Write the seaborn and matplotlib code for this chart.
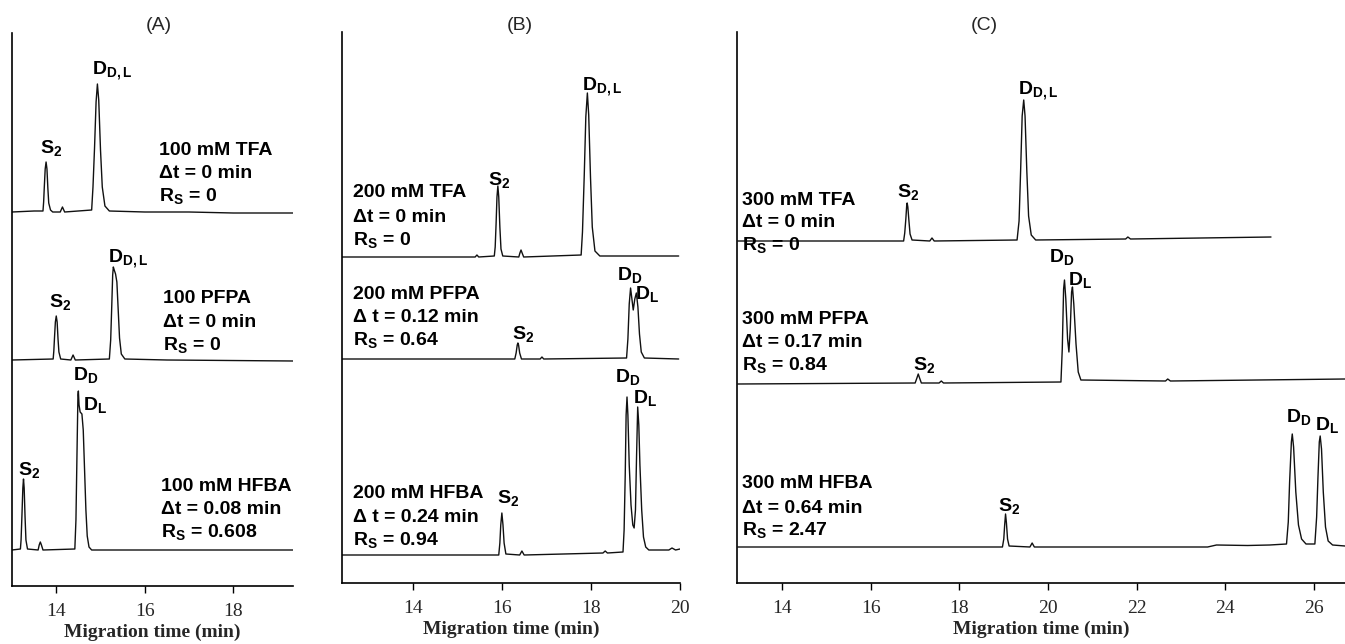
import numpy as np
import pandas as pd
import matplotlib
matplotlib.use("Agg")
import matplotlib.pyplot as plt
import seaborn as sns

# STYLE
sns.set_style("ticks")
plt.rcParams["font.family"] = ["Liberation Sans", "DejaVu Sans"]
plt.rcParams["mathtext.fontset"] = "custom"
plt.rcParams["mathtext.rm"] = "Liberation Sans"
plt.rcParams["mathtext.bf"] = "Liberation Sans:bold"
plt.rcParams["mathtext.it"] = "Liberation Sans:italic"

# DATA (migration time in min, detector signal above each trace's baseline)
# panel A - 100 mM
a_tfa_t = [13.0, 13.5, 13.70, 13.715, 13.73, 13.75, 13.77, 13.79, 13.81, 13.83, 13.87, 13.92,
           14.09, 14.14, 14.19,
           14.80, 14.83, 14.865, 14.90, 14.93, 14.96, 15.00, 15.04, 15.10, 15.20,
           16.0, 17.0, 18.0, 19.35]
a_tfa_s = [0, 1, 1, 10, 25, 43, 50, 43, 24, 9, 2, 0,
           0, 5, 0,
           2, 25, 64, 110, 128, 112, 62, 25, 6, 1,
           0, 0, -1, -1]
a_pfpa_t = [13.0, 13.93, 13.945, 13.96, 13.98, 14.00, 14.02, 14.04, 14.06, 14.10,
            14.33, 14.38, 14.43,
            15.20, 15.23, 15.255, 15.275, 15.29, 15.31, 15.34, 15.37, 15.40, 15.43, 15.47, 15.55,
            16.5, 19.35]
a_pfpa_s = [0, 1, 9, 22, 38, 44, 38, 21, 8, 1,
            0, 5, 0,
            1, 20, 55, 85, 93, 90, 86, 78, 50, 22, 6, 1,
            0, -1]
a_hfba_t = [13.0, 13.19, 13.205, 13.225, 13.245, 13.26, 13.275, 13.295, 13.315, 13.35,
            13.59, 13.615, 13.64, 13.665, 13.70,
            14.42, 14.445, 14.47, 14.49, 14.50, 14.515, 14.54, 14.58, 14.61, 14.64, 14.67, 14.70,
            14.74, 14.80, 15.5, 19.35]
a_hfba_s = [0, 1, 10, 35, 62, 71, 62, 33, 10, 1,
            0, 5, 8, 5, 0,
            1, 30, 100, 155, 159, 145, 138, 136, 120, 80, 40, 14,
            3, 0, 0, 0]

# panel B - 200 mM
b_tfa_t = [12.41, 15.0, 15.40, 15.44, 15.48,
           15.83, 15.85, 15.87, 15.89, 15.91, 15.93, 15.955, 15.98, 16.02,
           16.38, 16.405, 16.43, 16.455, 16.49,
           17.78, 17.81, 17.85, 17.885, 17.92, 17.95, 17.99, 18.03, 18.09, 18.2, 19.97]
b_tfa_s = [0, 0, 0, 2, 0,
           1, 10, 33, 60, 71, 60, 30, 8, 1,
           0, 4, 7, 4, 0,
           2, 25, 82, 140, 164, 142, 80, 30, 6, 1, 1]
b_pfpa_t = [12.41, 16.29, 16.32, 16.345, 16.36, 16.375, 16.40, 16.44,
            16.86, 16.90, 16.94,
            18.80, 18.83, 18.86, 18.89, 18.92, 18.95, 18.985, 19.02, 19.055, 19.09, 19.13, 19.20,
            19.97]
b_pfpa_s = [0, 0, 6, 14, 16, 14, 6, 0,
            0, 2, 0,
            1, 20, 55, 71, 60, 49, 60, 66, 52, 25, 7, 1,
            0]
b_hfba_t = [12.41, 15.93, 15.955, 15.975, 16.00, 16.025, 16.05, 16.09,
            16.40, 16.45, 16.50, 18.27, 18.32, 18.37,
            18.72, 18.745, 18.77, 18.79, 18.81, 18.83, 18.86, 18.90, 18.94, 18.97, 19.00, 19.025,
            19.05, 19.075, 19.10, 19.14, 19.18, 19.23, 19.30, 19.75, 19.82, 19.9, 20.0]
b_hfba_s = [0, 0, 12, 30, 42, 30, 12, 1,
            0, 4, 0, 2, 4, 2,
            3, 25, 80, 140, 158, 140, 90, 50, 30, 27, 45, 100,
            148, 130, 90, 45, 18, 8, 5, 5, 7, 5, 6]

# panel C - 300 mM
c_tfa_t = [13.0, 16.74, 16.765, 16.79, 16.81, 16.82, 16.835, 16.86, 16.885, 16.93,
           17.33, 17.38, 17.43,
           19.30, 19.345, 19.38, 19.415, 19.45, 19.48, 19.52, 19.56, 19.62, 19.72,
           21.75, 21.80, 21.86, 25.03]
c_tfa_s = [0, 0, 8, 22, 36, 38, 34, 20, 7, 1,
           0, 3, 0,
           1, 20, 70, 125, 141, 125, 70, 25, 6, 1,
           2, 4, 2, 4]
c_pfpa_t = [13.0, 17.0, 17.04, 17.07, 17.10, 17.14,
            17.54, 17.59, 17.64,
            20.29, 20.32, 20.35, 20.37, 20.40, 20.44, 20.47, 20.50, 20.53, 20.55, 20.58, 20.63,
            20.68, 20.74, 22.65, 22.70, 22.76, 26.7]
c_pfpa_s = [0, 1, 6, 10, 6, 1,
            1, 3, 1,
            2, 35, 95, 104, 85, 45, 32, 55, 92, 97, 80, 40,
            12, 4, 3, 5, 3, 5]
c_hfba_t = [13.0, 18.97, 19.00, 19.02, 19.04, 19.06, 19.085, 19.12,
            19.59, 19.64, 19.69, 23.6, 23.8, 24.5, 25.0,
            25.38, 25.42, 25.45, 25.49, 25.51, 25.54, 25.59, 25.65, 25.72, 25.82,
            26.02, 26.06, 26.09, 26.12, 26.14, 26.17, 26.21, 26.26, 26.32, 26.42, 26.7]
c_hfba_s = [0, 0, 8, 22, 33, 24, 8, 1,
            0, 4, 0, 0, 2, 1.5, 2,
            3, 25, 65, 105, 113, 100, 55, 22, 8, 3,
            3, 30, 70, 105, 111, 98, 55, 20, 6, 2, 1]

# stacking offsets of the three traces (TFA, PFPA, HFBA)
a_offsets = [374, 226, 36]
b_offsets = [326, 224, 28]
c_offsets = [342, 199, 36]

panel_titles = ["(A)", "(B)", "(C)"]
a_ticks = [14, 16, 18]
b_ticks = [14, 16, 18, 20]
c_ticks = [14, 16, 18, 20, 22, 24, 26]

a_conditions = [["100 mM TFA", "\u0394t = 0 min", r"$\mathbf{R_S}$ = 0"],
                ["100 PFPA", "\u0394t = 0 min", r"$\mathbf{R_S}$ = 0"],
                ["100 mM HFBA", "\u0394t = 0.08 min", r"$\mathbf{R_S}$ = 0.608"]]
b_conditions = [["200 mM TFA", "\u0394t = 0 min", r"$\mathbf{R_S}$ = 0"],
                ["200 mM PFPA", "\u0394 t = 0.12 min", r"$\mathbf{R_S}$ = 0.64"],
                ["200 mM HFBA", "\u0394 t = 0.24 min", r"$\mathbf{R_S}$ = 0.94"]]
c_conditions = [["300 mM TFA", "\u0394t = 0 min", r"$\mathbf{R_S}$ = 0"],
                ["300 mM PFPA", "\u0394t = 0.17 min", r"$\mathbf{R_S}$ = 0.84"],
                ["300 mM HFBA", "\u0394t = 0.64 min", r"$\mathbf{R_S}$ = 2.47"]]

S2 = r"$\mathbf{S_2}$"
DDL = r"$\mathbf{D_{D,L}}$"
DD = r"$\mathbf{D_D}$"
DL = r"$\mathbf{D_L}$"

# LAYOUT (positions of text, in data units of each panel)
a_peak_labels = [(13.64, 433, S2), (14.81, 511, DDL), (13.84, 279, S2), (15.17, 324, DDL),
                 (14.38, 206, DD), (14.61, 176, DL), (13.14, 111, S2)]
b_peak_labels = [(15.69, 398, S2), (17.80, 493, DDL), (16.23, 244, S2), (18.59, 303, DD),
                 (18.99, 284, DL), (15.89, 80, S2), (18.55, 201, DD), (18.95, 180, DL)]
c_peak_labels = [(16.60, 386, S2), (19.33, 488, DDL), (16.96, 213, S2), (20.01, 321, DD),
                 (20.46, 298, DL), (18.88, 72, S2), (25.37, 161, DD), (26.02, 153, DL)]

a_cond_x = [16.33, 16.42, 16.37]
b_cond_x = [12.66, 12.66, 12.66]
c_cond_x = [13.09, 13.09, 13.09]
a_cond_y = [[431, 408, 385], [283, 259, 236], [95, 72, 49]]
b_cond_y = [[386, 361, 338], [284, 261, 238], [85, 61, 38]]
c_cond_y = [[378, 356, 333], [259, 236, 213], [95, 70, 48]]

W, H = 1345, 644
fig = plt.figure(figsize=(W / 100, H / 100), dpi=100)

# axes boxes in pixels: left, right, top, bottom
boxes = [(12, 293, 33, 586), (342, 680, 32, 583), (737, 1345, 32, 583)]
xlims = [(13.0, 19.35), (12.41, 20.0), (12.98, 26.7)]
title_pos = [(159, 25), (520, 25), (984, 25)]

panels = [
    ([(a_tfa_t, a_tfa_s), (a_pfpa_t, a_pfpa_s), (a_hfba_t, a_hfba_s)], a_offsets, a_ticks,
     a_conditions, a_cond_x, a_cond_y, a_peak_labels),
    ([(b_tfa_t, b_tfa_s), (b_pfpa_t, b_pfpa_s), (b_hfba_t, b_hfba_s)], b_offsets, b_ticks,
     b_conditions, b_cond_x, b_cond_y, b_peak_labels),
    ([(c_tfa_t, c_tfa_s), (c_pfpa_t, c_pfpa_s), (c_hfba_t, c_hfba_s)], c_offsets, c_ticks,
     c_conditions, c_cond_x, c_cond_y, c_peak_labels),
]

for i, (traces, offsets, ticks, conds, cx, cy, plabels) in enumerate(panels):
    l, r, t, b = boxes[i]
    ax = fig.add_axes([l / W, 1 - b / H, (r - l) / W, (b - t) / H])

    for (tt, ss), off in zip(traces, offsets):
        df = pd.DataFrame({"time": tt, "signal": np.array(ss, dtype=float) + off})
        sns.lineplot(data=df, x="time", y="signal", ax=ax, color="#111111",
                     linewidth=1.0, estimator=None, sort=False)

    ax.set_xlim(*xlims[i])
    ax.set_ylim(0, b - t)
    ax.set_xticks(ticks)
    ax.set_yticks([])
    ax.set_ylabel("")
    ax.set_xlabel("Migration time (min)", fontsize=14, fontweight="bold",
                  fontfamily="Liberation Serif", labelpad=3)
    ax.tick_params(axis="x", direction="out", length=5, width=1, labelsize=14,
                   pad=7, labelfontfamily="Liberation Serif", color="black")
    sns.despine(ax=ax)
    for side in ["left", "bottom"]:
        ax.spines[side].set_linewidth(1.2)
        ax.spines[side].set_color("black")

    for lines, x0, ys in zip(conds, cx, cy):
        for txt, y0 in zip(lines, ys):
            ax.text(x0, y0, txt, fontsize=14, fontweight="bold", va="baseline",
                    ha="left", color="black")

    for x0, y0, txt in plabels:
        ax.text(x0, y0, txt, fontsize=14, va="baseline", ha="left", color="black")

    tx, ty = title_pos[i]
    fig.text(tx / W, 1 - ty / H, panel_titles[i], fontsize=14, ha="center", va="center")

fig.savefig("out.png", dpi=100)
